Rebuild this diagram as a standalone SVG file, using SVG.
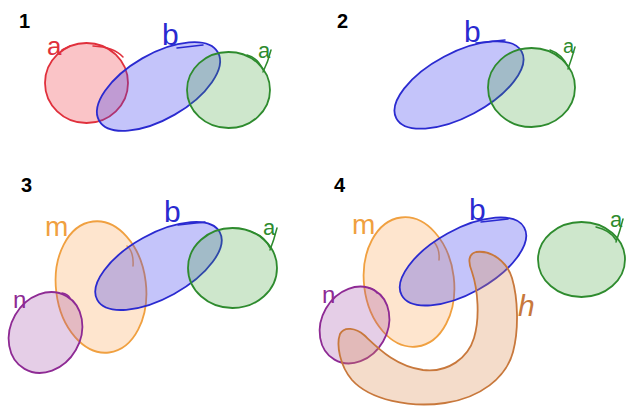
<svg xmlns="http://www.w3.org/2000/svg" width="626" height="406" viewBox="0 0 626 406">
<style>
.num{font-family:"Liberation Sans",Arial,sans-serif;font-weight:bold;font-size:20px;fill:#000}
.lbl{font-family:"Liberation Sans",Arial,sans-serif;font-weight:normal}
.red{fill:rgb(240,60,70);fill-opacity:.3;stroke:#e0303c;stroke-width:1.8}
.blue{fill:rgb(60,60,240);fill-opacity:.3;stroke:#2a2ad0;stroke-width:1.8}
.green{fill:rgb(60,160,50);fill-opacity:.25;stroke:#2e8b2e;stroke-width:1.8}
.orange{fill:rgb(250,150,60);fill-opacity:.25;stroke:#f0a040;stroke-width:1.8}
.purple{fill:rgb(150,60,160);fill-opacity:.25;stroke:#8e2a94;stroke-width:1.8}
.brown{fill:rgb(220,140,80);fill-opacity:.3;stroke:#c8783c;stroke-width:1.8}
.sr{fill:none;stroke:#e0303c;stroke-width:1.5;stroke-linecap:round}
.sb{fill:none;stroke:#2a2ad0;stroke-width:1.5;stroke-linecap:round}
.sg{fill:none;stroke:#2e8b2e;stroke-width:1.5;stroke-linecap:round}
.so{fill:none;stroke:#f0a040;stroke-width:1.5;stroke-linecap:round}
.sp{fill:none;stroke:#8e2a94;stroke-width:1.5;stroke-linecap:round}
.tr{fill:#e0303c}.tb{fill:#2a2ad0}.tg{fill:#2e8b2e}.to{fill:#f0a040}.tp{fill:#8e2a94}.th{fill:#c8783c}
</style>
<rect width="626" height="406" fill="#fff"/>

<!-- Panel 1 -->
<g id="panel1">
  <text class="num" x="19" y="28">1</text>
  <g id="p1-a-red">
    <ellipse class="red" cx="86.5" cy="83" rx="41.5" ry="40"/>
    <path class="sr" d="M93,46 Q114,47 123,57"/>
    <path class="sr" d="M62,50 Q66,48 70,46"/>
    <text class="lbl tr" x="47" y="55" font-size="26">a</text>
  </g>
  <g id="p1-b">
    <ellipse class="blue" cx="158.5" cy="86.5" rx="68.5" ry="32.5" transform="rotate(-30 158.5 86.5)"/>
    <path class="sb" d="M177,48 L203,45"/>
    <text class="lbl tb" x="162" y="45" font-size="30">b</text>
  </g>
  <g id="p1-a-green">
    <ellipse class="green" cx="228.5" cy="90" rx="41.5" ry="38"/>
    <path class="sg" d="M247,55 Q258,58 263,70 M271,50 Q268,62 263,72"/>
    <text class="lbl tg" x="258" y="58" font-size="22">a</text>
  </g>
</g>

<!-- Panel 2 -->
<g id="panel2">
  <text class="num" x="337" y="28">2</text>
  <g id="p2-b">
    <ellipse class="blue" cx="459" cy="85" rx="71" ry="32" transform="rotate(-28 459 85)"/>
    <path class="sb" d="M476,43 L505,40"/>
    <text class="lbl tb" x="464" y="42" font-size="30">b</text>
  </g>
  <g id="p2-a">
    <ellipse class="green" cx="531.5" cy="87.5" rx="43.5" ry="39.5"/>
    <path class="sg" d="M550,50 Q562,54 568,67 M575,47 Q572,58 568,69"/>
    <text class="lbl tg" x="563" y="53" font-size="20">a</text>
  </g>
</g>

<!-- Panel 3 -->
<g id="panel3">
  <text class="num" x="21" y="192">3</text>
  <g id="p3-m">
    <ellipse class="orange" cx="101" cy="287" rx="45" ry="66" transform="rotate(-7 101 287)"/>
    <path class="so" d="M127,246 Q134,252 133,266"/>
    <text class="lbl to" x="45" y="236" font-size="28">m</text>
  </g>
  <g id="p3-b">
    <ellipse class="blue" cx="158.5" cy="266" rx="70" ry="32" transform="rotate(-29 158.5 266)"/>
    <path class="sb" d="M178,225 L205,222"/>
    <text class="lbl tb" x="164" y="222" font-size="30">b</text>
  </g>
  <g id="p3-a">
    <ellipse class="green" cx="232.5" cy="268" rx="44.5" ry="40"/>
    <path class="sg" d="M252,232 Q265,236 270,248 M277,228 Q274,240 270,250"/>
    <text class="lbl tg" x="263" y="235" font-size="22">a</text>
  </g>
  <g id="p3-n">
    <ellipse class="purple" cx="45.5" cy="332.5" rx="35" ry="42" transform="rotate(30 45.5 332.5)"/>
    <path class="sp" d="M62,293 Q68,294 70,298"/>
    <text class="lbl tp" x="13" y="308" font-size="24">n</text>
  </g>
</g>

<!-- Panel 4 -->
<g id="panel4">
  <text class="num" x="334" y="192">4</text>
  <g id="p4-m">
    <ellipse class="orange" cx="409" cy="282" rx="45" ry="65" transform="rotate(-7 409 282)"/>
    <path class="so" d="M434,242 Q440,249 439,260"/>
    <text class="lbl to" x="352" y="234" font-size="28">m</text>
  </g>
  <g id="p4-b">
    <ellipse class="blue" cx="463" cy="261.5" rx="70" ry="32" transform="rotate(-29 463 261.5)"/>
    <path class="sb" d="M481,222 L508,219"/>
    <text class="lbl tb" x="469" y="220" font-size="30">b</text>
  </g>
  <g id="p4-a">
    <ellipse class="green" cx="581.5" cy="259.5" rx="43.5" ry="37.5"/>
    <path class="sg" d="M596,227 Q610,230 616,240 M623,219 Q620,231 616,242"/>
    <text class="lbl tg" x="610" y="227" font-size="22">a</text>
  </g>
  <g id="p4-n">
    <ellipse class="purple" cx="354.5" cy="325" rx="33" ry="40" transform="rotate(30 354.5 325)"/>
    <path class="sp" d="M369,288 Q375,289 377,293"/>
    <text class="lbl tp" x="322" y="303" font-size="24">n</text>
  </g>
  <g id="p4-h">
    <path class="brown" d="M476,252 C492,250 507,262 512,278 C518,298 519,330 513,352 C506,378 480,398 445,403 C410,408 370,400 352,380 C340,366 336,345 340,334 C344,326 356,328 364,335 C378,348 395,366 423,370 C448,373 468,358 474,338 C480,318 478,290 472,272 C468,262 468,254 476,252 Z"/>
    <text class="lbl th" x="518" y="316" font-size="30" font-style="italic">h</text>
  </g>
</g>
</svg>
